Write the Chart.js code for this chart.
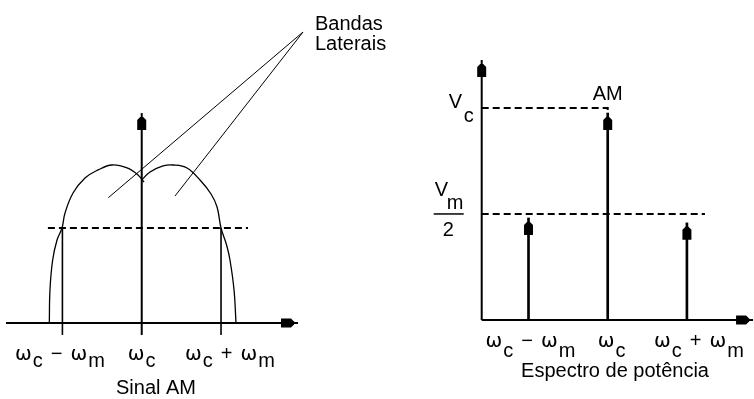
<!DOCTYPE html>
<html>
<head>
<meta charset="utf-8">
<script src="https://cdn.jsdelivr.net/npm/chart.js@4.4.1/dist/chart.umd.min.js"></script>
<style>
  html, body { margin: 0; padding: 0; background: #fff; }
  #wrap { position: relative; width: 754px; height: 399px; overflow: hidden; background: #fff; }
  canvas { position: absolute; top: 0; }
  #sinal { left: 0; }
  #espectro { left: 420px; }
</style>
</head>
<body>
<div id="wrap">
  <canvas id="sinal" width="420" height="399"></canvas>
  <canvas id="espectro" width="334" height="399"></canvas>
</div>
<script>
// frequencies in units of ωm, measured from the carrier ωc
const freqTicks = [-1, 0, 1];
const freqLabels = ["ω_c − ω_m", "ω_c", "ω_c + ω_m"];

// Sinal AM: envelope of the lower and upper side-band lobes
const lobeLowerX = [-1.165, -1.157, -1.123, -1.068, -1.005, -0.967, -0.866, -0.715, -0.551, -0.375, -0.185, -0.047, 0.029];
const lobeLowerY = [0, 0.347, 0.663, 0.874, 1.0, 1.158, 1.368, 1.526, 1.611, 1.663, 1.632, 1.558, 1.484];
const lobeUpperX = [0, 0.105, 0.269, 0.395, 0.571, 0.735, 0.874, 0.95, 1.0, 1.07, 1.113, 1.164, 1.189];
const lobeUpperY = [1.505, 1.589, 1.653, 1.663, 1.632, 1.505, 1.358, 1.221, 1.0, 0.821, 0.663, 0.347, 0];
const sidebandLevel = 1;

// Espectro de potência: line amplitudes, Vc = 1
const spectrumValues = [0.481, 0.976, 0.458];
const carrierLevel = 1;   // Vc
const sideLevel = 0.5;    // Vm/2

const FONT = "20px 'Liberation Sans', Arial, sans-serif";
const GREEK = "20px 'DejaVu Sans', sans-serif";
const INK = "#000";

const pts = (xs, ys) => xs.map((x, i) => ({ x, y: ys[i] }));

function seg(data, extra) {
    return Object.assign({
        type: "line",
        data,
        borderColor: INK,
        borderWidth: 1,
        pointRadius: 0,
        fill: false,
        tension: 0,
    }, extra);
}

function arrowHead(ctx, x, y, angle) {
    // tip at (x, y); angle 0 points up
    ctx.save();
    ctx.translate(x, y);
    ctx.rotate(angle);
    ctx.beginPath();
    ctx.moveTo(-1.5, 4);
    ctx.lineTo(1.5, 4);
    ctx.lineTo(4.5, 7);
    ctx.lineTo(4.5, 17);
    ctx.lineTo(-4.5, 17);
    ctx.lineTo(-4.5, 7);
    ctx.closePath();
    ctx.fillStyle = INK;
    ctx.fill();
    ctx.restore();
}

// "ω_c − ω_m": words separated by a wide gap, "_x" lowered as a subscript
function subText(ctx, text, cx, base, drop) {
    const runs = [];
    text.split(" ").forEach((word, wi) => {
        word.split(/(_.)/).filter((p) => p.length).forEach((p, pi) => {
            const sub = p[0] === "_";
            const t = sub ? p.slice(1) : p;
            const font = t === "ω" ? GREEK : FONT;
            ctx.font = font;
            const gap = pi > 0 ? 1 : (wi > 0 ? 8 : 0);
            runs.push({ t, font, sub, gap, w: ctx.measureText(t).width });
        });
    });
    const total = runs.reduce((a, r) => a + r.gap + r.w, 0);
    let x = cx - total / 2;
    runs.forEach((r) => {
        x += r.gap;
        ctx.font = r.font;
        ctx.fillText(r.t, x, r.sub ? base + drop : base);
        x += r.w;
    });
    ctx.font = FONT;
}

function line(ctx, x1, y1, x2, y2, w) {
    ctx.beginPath();
    ctx.moveTo(x1, y1);
    ctx.lineTo(x2, y2);
    ctx.lineWidth = w;
    ctx.strokeStyle = INK;
    ctx.stroke();
}

const baseOptions = (xr, yr) => ({
    responsive: false,
    animation: false,
    devicePixelRatio: 1,
    events: [],
    layout: { padding: 0 },
    plugins: { legend: { display: false }, tooltip: { enabled: false } },
    scales: {
        x: { type: "linear", display: false, offset: false, min: xr[0], max: xr[1] },
        y: { type: "linear", display: false, min: yr[0], max: yr[1] },
    },
});

// ---- Sinal AM ----
const sinalPlugin = {
    id: "sinalDecor",
    afterDatasetsDraw(chart) {
        const { ctx, scales: { x, y } } = chart;
        const X = (v) => x.getPixelForValue(v);
        const Y = (v) => y.getPixelForValue(v);
        // axes
        line(ctx, X(-1.711), Y(0), X(1.971), Y(0), 2);
        arrowHead(ctx, X(1.971), Y(0), Math.PI / 2);
        line(ctx, X(0), Y(-0.126), X(0), Y(2.21), 2);
        arrowHead(ctx, X(0), Y(2.21), 0);

        ctx.fillStyle = INK;
        ctx.font = FONT;
        ctx.textBaseline = "alphabetic";
        ctx.textAlign = "left";
        const dx = [-2.5, 0, 9];
        freqTicks.forEach((f, i) => subText(ctx, freqLabels[i], X(f) + dx[i], 360, 7));
        ctx.textAlign = "center";
        ctx.fillText("Sinal AM", 156, 394);
        ctx.textAlign = "left";
        ctx.fillText("Bandas", 315, 30);
        ctx.fillText("Laterais", 315, 50);
    },
};

new Chart(document.getElementById("sinal"), {
    type: "line",
    data: {
        datasets: [
            seg(pts(lobeLowerX, lobeLowerY), { tension: 0.4, borderWidth: 1.3 }),
            seg(pts(lobeUpperX, lobeUpperY), { tension: 0.4, borderWidth: 1.3 }),
            seg([{ x: -1.183, y: sidebandLevel }, { x: 1.34, y: sidebandLevel }], { borderDash: [7, 4], borderWidth: 2 }),
            ...freqTicks.filter((f) => f !== 0).map((f) =>
                seg([{ x: f, y: -0.126 }, { x: f, y: sidebandLevel }], { borderWidth: 1.6 })),
            // leader lines to the "Bandas Laterais" note
            seg([{ x: -0.421, y: 1.319 }, { x: 2.034, y: 3.063 }]),
            seg([{ x: 0.42, y: 1.337 }, { x: 2.034, y: 3.063 }]),
        ],
    },
    // x: ωm = 79.3px, ωc at 141.7px; y: level 1 = 95px, axis at 323px
    options: baseOptions([-1.787, 3.509], [-0.8, 3.4]),
    plugins: [sinalPlugin],
});

// ---- Espectro de potência ----
const AXIS_X = -1.591;

const espectroPlugin = {
    id: "espectroDecor",
    afterDatasetsDraw(chart) {
        const { ctx, scales: { x, y } } = chart;
        const X = (v) => x.getPixelForValue(v);
        const Y = (v) => y.getPixelForValue(v);
        line(ctx, X(AXIS_X), Y(0), X(1.835), Y(0), 2);
        arrowHead(ctx, X(1.835), Y(0), Math.PI / 2);
        line(ctx, X(AXIS_X), Y(0), X(AXIS_X), Y(1.226), 2);
        arrowHead(ctx, X(AXIS_X), Y(1.226), 0);
        freqTicks.forEach((f, i) => arrowHead(ctx, X(f), Y(spectrumValues[i]), 0));

        ctx.fillStyle = INK;
        ctx.font = FONT;
        ctx.textBaseline = "alphabetic";
        ctx.textAlign = "left";
        const dx = [2, 4, 12];
        freqTicks.forEach((f, i) => subText(ctx, freqLabels[i], X(f) + dx[i], 347, 10));
        ctx.textAlign = "center";
        ctx.fillText("Espectro de potência", 195, 377);
        ctx.fillText("AM", X(0), Y(carrierLevel) - 8);

        // Vc
        const ax = X(AXIS_X);
        const vc = Y(carrierLevel);
        ctx.textAlign = "left";
        ctx.fillText("V", ax - 33, vc);
        ctx.fillText("c", ax - 18, vc + 14);
        // Vm / 2
        const vm = Y(sideLevel);
        ctx.fillText("V", ax - 47, vm - 18);
        ctx.fillText("m", ax - 35, vm - 5);
        line(ctx, ax - 48, vm, ax - 18, vm, 1.5);
        ctx.fillText("2", ax - 39, vm + 22);
    },
};

new Chart(document.getElementById("espectro"), {
    type: "line",
    data: {
        datasets: [
            {
                type: "bar",
                data: pts(freqTicks, spectrumValues),
                backgroundColor: INK,
                borderWidth: 0,
                barThickness: 2,
            },
            seg([{ x: AXIS_X, y: carrierLevel }, { x: 0, y: carrierLevel }, { x: 0, y: spectrumValues[1] }],
                { borderDash: [7, 4], borderWidth: 2 }),
            seg([{ x: AXIS_X, y: sideLevel }, { x: 1.228, y: sideLevel }], { borderDash: [7, 4], borderWidth: 2 }),
        ],
    },
    // x: ωm = 79.2px, ωc at 607.7px; y: Vc = 212px, axis at 320px
    options: baseOptions([-2.37, 1.847], [-0.3726, 1.509]),
    plugins: [espectroPlugin],
});
</script>
</body>
</html>
